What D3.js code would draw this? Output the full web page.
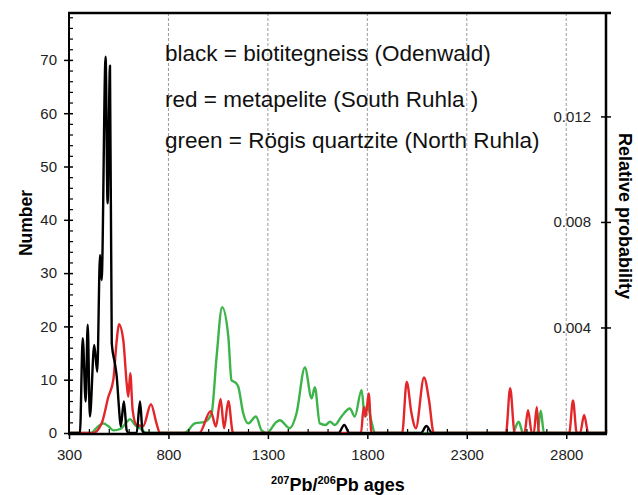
<!DOCTYPE html>
<html>
<head>
<meta charset="utf-8">
<script src="https://cdn.jsdelivr.net/npm/d3@7"></script>
<style>
body { margin: 0; background: #fff; }
text { font-family: "Liberation Sans", Arial, sans-serif; }
</style>
</head>
<body>
<svg id="chart" width="638" height="495"></svg>
<script>
// age (Ma), number
var blackCurve = [[300,0],[355,0],[369,17.8],[384,5.9],[394,20.3],[405,3.1],[427,16.5],[442,11.5],[456,33.4],[464,28.7],
    [484,70.6],[494,43.1],[506,68.9],[515,16.8],[531,13],[540,10.6],[551,4.9],[560,1.2],[576,5.9],[590,0.5],[600,0],
    [640,0],[657,5.9],[670,0.3],[680,0],[1655,0],[1684,1.5],[1710,0],[2070,0],[2097,1.3],[2125,0],[3000,0]];
var redCurve = [[300,0],[420,0],[464,1.8],[498,6.8],[523,10],[540,17.4],[551,20.4],[573,17.4],[590,9.3],[598,6.8],
    [608,11.2],[620,4.3],[640,1.5],[673,1.3],[712,5.4],[740,1.8],[757,0],[955,0],[1012,4.1],[1039,1.2],[1062,6.4],
    [1080,0.9],[1101,6.0],[1125,0],[1768,0],[1782,4.9],[1792,3.1],[1807,7.4],[1821,0],[1975,0],[1998,9.6],[2022,3.7],
    [2044,0.9],[2085,10.4],[2110,6.2],[2134,0],[2497,0],[2518,8.4],[2541,0],[2590,0],[2608,4.3],[2627,0],[2637,0],
    [2652,4.9],[2663,0],[2815,0],[2834,6.1],[2853,0],[2870,0],[2890,3.4],[2911,0],[3000,0]];
var greenCurve = [[300,0],[410,0],[440,1],[472,1.8],[500,1.2],[523,0.5],[560,0.8],[585,1.8],[607,2.6],[632,1.5],
    [657,0.9],[690,0],[880,0],[933,1.8],[983,2.1],[1017,3.7],[1042,14.3],[1070,23.6],[1101,18.1],[1117,9.9],[1139,9.4],
    [1151,8.7],[1176,3.7],[1201,1.8],[1240,3.1],[1268,0.5],[1294,0],[1344,2.1],[1360,2.4],[1410,0.9],[1444,3.7],
    [1486,12.3],[1520,6.5],[1536,8.6],[1561,1.8],[1590,1.5],[1612,2.1],[1637,1.5],[1670,3.1],[1712,4.6],[1737,3.1],
    [1771,8.1],[1787,3.1],[1799,5.3],[1821,2.1],[1838,0],[2530,0],[2561,2.1],[2583,0],[2655,0],[2672,4.2],[2688,0],[3000,0]];

var xMajor = [300, 800, 1300, 1800, 2300, 2800];
var yMajor = [0, 10, 20, 30, 40, 50, 60, 70];
var probTicks = [0.004, 0.008, 0.012];
var legendLines = ['black = biotitegneiss (Odenwald)', 'red = metapelite (South Ruhla )', 'green = R\u00f6gis quartzite (North Ruhla)'];

// note: "top" is taken by window.top, so plot edges get their own names
var plotLeft = 69, plotRight = 606, plotTop = 13, plotBottom = 433;
var svg = d3.select('#chart');

var x = d3.scaleLinear().domain([300, 3000]).range([plotLeft, plotRight]);
var y = d3.scaleLinear().domain([0, 78.8]).range([plotBottom, plotTop]);
var y2 = d3.scaleLinear().domain([0, 0.01592]).range([plotBottom, plotTop]);
var tickFont = '"Liberation Sans", Arial, sans-serif';

// dashed grid at the major ages
svg.append('g').selectAll('line')
    .data(xMajor.slice(1))
    .enter().append('line')
    .attr('x1', x).attr('x2', x)
    .attr('y1', plotTop).attr('y2', plotBottom)
    .attr('stroke', '#9a9a9a')
    .attr('stroke-width', 1)
    .attr('stroke-dasharray', '3,2');

// legend text
svg.append('g').selectAll('text')
    .data(legendLines)
    .enter().append('text')
    .attr('x', 165)
    .attr('y', function (d, i) { return [61, 107, 148][i]; })
    .attr('font-size', '22.5px')
    .attr('fill', '#111')
    .text(function (d) { return d; });

var line = d3.line()
    .x(function (d) { return x(d[0]); })
    .y(function (d) { return y(d[1]); })
    .curve(d3.curveMonotoneX);

var curves = [[greenCurve, '#3cb44a'], [redCurve, '#e3262a'], [blackCurve, '#000']];
svg.append('g').selectAll('path')
    .data(curves)
    .enter().append('path')
    .attr('d', function (d) { return line(d[0]); })
    .attr('fill', 'none')
    .attr('stroke', function (d) { return d[1]; })
    .attr('stroke-width', 2.4)
    .attr('stroke-linejoin', 'round');

// left axis, minor ticks every 2 inside, major ticks crossing
var yMinor = d3.range(0, 79, 2).filter(function (v) { return v % 10 !== 0; });
var leftMinor = svg.append('g').attr('transform', 'translate(' + plotLeft + ',0)');
leftMinor.call(d3.axisLeft(y).tickValues(yMinor).tickSizeInner(-4).tickSizeOuter(0).tickFormat(''));
leftMinor.select('.domain').remove();
leftMinor.selectAll('.tick line').attr('stroke-width', 1.2);
var leftMajor = svg.append('g').attr('transform', 'translate(' + plotLeft + ',0)');
leftMajor.call(d3.axisLeft(y).tickValues(yMajor).tickSizeInner(5).tickSizeOuter(0).tickPadding(7));
leftMajor.select('.domain').remove();
leftMajor.selectAll('.tick line').attr('x2', 4).attr('x1', -5).attr('stroke-width', 1.5);
leftMajor.selectAll('.tick text').attr('font-size', '15px').attr('fill', '#222').attr('font-family', tickFont);

// bottom axis
var xMinor = d3.range(300, 3001, 100).filter(function (v) { return xMajor.indexOf(v) < 0; });
var bottomMinor = svg.append('g').attr('transform', 'translate(0,' + plotBottom + ')');
bottomMinor.call(d3.axisBottom(x).tickValues(xMinor).tickSizeInner(-4).tickSizeOuter(0).tickFormat(''));
bottomMinor.select('.domain').remove();
bottomMinor.selectAll('.tick line').attr('stroke-width', 1.2);
var bottomMajor = svg.append('g').attr('transform', 'translate(0,' + plotBottom + ')');
bottomMajor.call(d3.axisBottom(x).tickValues(xMajor).tickSizeInner(6).tickSizeOuter(0).tickPadding(10).tickFormat(d3.format('d')));
bottomMajor.select('.domain').remove();
bottomMajor.selectAll('.tick line').attr('stroke-width', 1.5);
bottomMajor.selectAll('.tick text').attr('font-size', '15px').attr('fill', '#222').attr('font-family', tickFont);

// right axis (relative probability)
var rightAxis = svg.append('g').attr('transform', 'translate(' + plotRight + ',0)');
rightAxis.call(d3.axisLeft(y2).tickValues(probTicks).tickSizeInner(5).tickSizeOuter(0).tickPadding(10).tickFormat(d3.format('.3f')));
rightAxis.select('.domain').remove();
rightAxis.selectAll('.tick line').attr('x1', 5).attr('x2', -5).attr('stroke-width', 1.5);
rightAxis.selectAll('.tick text').attr('font-size', '15px').attr('fill', '#222').attr('font-family', tickFont);

// frame lines
var frame = svg.append('g').attr('stroke', '#000');
frame.append('line').attr('x1', plotLeft).attr('x2', plotLeft).attr('y1', plotTop).attr('y2', plotBottom + 1).attr('stroke-width', 2);
frame.append('line').attr('x1', plotLeft - 1).attr('x2', plotRight + 5).attr('y1', plotTop).attr('y2', plotTop).attr('stroke-width', 2.5);
frame.append('line').attr('x1', plotRight).attr('x2', plotRight).attr('y1', plotTop).attr('y2', plotBottom + 1).attr('stroke-width', 2.5);
frame.append('line').attr('x1', plotLeft - 1).attr('x2', plotRight + 1).attr('y1', plotBottom + 1).attr('y2', plotBottom + 1).attr('stroke-width', 2.5);

// axis titles
svg.append('text')
    .attr('transform', 'translate(32,223) rotate(-90)')
    .attr('text-anchor', 'middle')
    .attr('font-size', '17.5px')
    .attr('font-weight', 'bold')
    .text('Number');

svg.append('text')
    .attr('transform', 'translate(619,216) rotate(90)')
    .attr('text-anchor', 'middle')
    .attr('font-size', '18px')
    .attr('font-weight', 'bold')
    .text('Relative probability');

var xt = svg.append('text')
    .attr('x', 338)
    .attr('y', 491)
    .attr('text-anchor', 'middle')
    .attr('font-size', '18px')
    .attr('font-weight', 'bold');
xt.append('tspan').attr('font-size', '11px').attr('dy', -7).text('207');
xt.append('tspan').attr('dy', 7).text('Pb/');
xt.append('tspan').attr('font-size', '11px').attr('dy', -7).text('206');
xt.append('tspan').attr('dy', 7).text('Pb ages');
</script>
</body>
</html>
